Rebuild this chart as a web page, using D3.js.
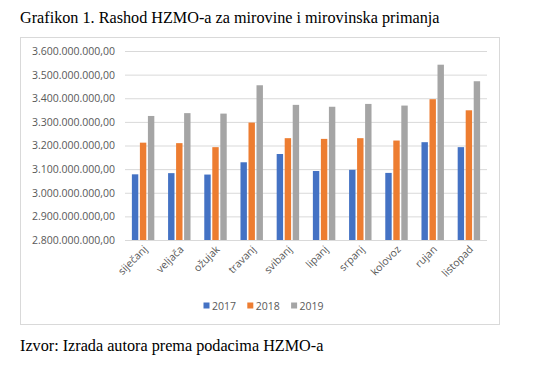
<!DOCTYPE html>
<html>
<head>
<meta charset="utf-8">
<script src="https://cdn.jsdelivr.net/npm/d3@7"></script>
<style>
  body { margin: 0; background: #fff; }
  svg { display: block; }
</style>
</head>
<body>
<svg id="chart" width="553" height="367"></svg>
<script>
// data
const months = ["siječanj", "veljača", "ožujak", "travanj", "svibanj", "lipanj", "srpanj", "kolovoz", "rujan", "listopad"];
const years = ["2017", "2018", "2019"];
const v2017 = [3078e6, 3083e6, 3077e6, 3129e6, 3164e6, 3092e6, 3097e6, 3084e6, 3214e6, 3193e6];
const v2018 = [3212e6, 3210e6, 3193e6, 3297e6, 3231e6, 3228e6, 3231e6, 3221e6, 3396e6, 3349e6];
const v2019 = [3325e6, 3337e6, 3335e6, 3455e6, 3372e6, 3364e6, 3376e6, 3369e6, 3542e6, 3472e6];
const yTicks = [2.8e9, 2.9e9, 3.0e9, 3.1e9, 3.2e9, 3.3e9, 3.4e9, 3.5e9, 3.6e9];

const series = [v2017, v2018, v2019];
const colors = ["#4472C4", "#ED7D31", "#A5A5A5"];

const svg = d3.select("#chart");

// title and source
svg.append("text")
    .attr("x", 20).attr("y", 23)
    .style("font-family", "'Liberation Serif', 'Times New Roman', serif")
    .style("font-size", "16.2px")
    .style("fill", "#000")
    .text("Grafikon 1. Rashod HZMO-a za mirovine i mirovinska primanja");

svg.append("text")
    .attr("x", 20).attr("y", 351)
    .style("font-family", "'Liberation Serif', 'Times New Roman', serif")
    .style("font-size", "16.2px")
    .style("fill", "#000")
    .text("Izvor: Izrada autora prema podacima HZMO-a");

// chart frame
svg.append("rect")
    .attr("x", 20.5).attr("y", 37.5)
    .attr("width", 479).attr("height", 287)
    .attr("fill", "#fff")
    .attr("stroke", "#d9d9d9");

let x0 = d3.scaleBand()
    .domain(months)
    .range([125, 487])
    .paddingInner(0.38)
    .paddingOuter(0.19);

let x1 = d3.scaleBand()
    .domain(years)
    .range([0, x0.bandwidth()])
    .paddingInner(0.2);

let yScale = d3.scaleLinear()
    .domain([2.8e9, 3.6e9])
    .range([240, 51]);

const fmt = v => d3.format(",.2f")(v).replace(/,/g, "#").replace(".", ",").replace(/#/g, ".");

// y axis with gridlines
let yAxis = d3.axisLeft(yScale)
    .tickValues(yTicks)
    .tickSize(-(487 - 125))
    .tickPadding(10)
    .tickFormat(fmt);

let gy = svg.append("g")
    .attr("transform", "translate(125,0)")
    .call(yAxis);
gy.select(".domain").remove();
gy.selectAll(".tick line").attr("stroke", "#d9d9d9");
gy.selectAll(".tick text")
    .style("font-family", "'Open Sans', sans-serif")
    .style("font-size", "10.5px")
    .attr("fill", "#595959");

// bars
let groups = svg.append("g").selectAll("g")
    .data(months)
    .join("g")
    .attr("transform", d => "translate(" + x0(d) + ",0)");

groups.selectAll("rect")
    .data((m, i) => series.map((s, k) => ({year: years[k], value: s[i], k: k})))
    .join("rect")
    .attr("x", d => x1(d.year))
    .attr("y", d => yScale(d.value))
    .attr("width", x1.bandwidth())
    .attr("height", d => yScale(2.8e9) - yScale(d.value))
    .attr("fill", d => colors[d.k]);

// baseline
svg.append("line")
    .attr("x1", 125).attr("x2", 487)
    .attr("y1", 240.5).attr("y2", 240.5)
    .attr("stroke", "#d9d9d9");

// x labels, rotated
svg.append("g").selectAll("text")
    .data(months)
    .join("text")
    .attr("transform", d => "translate(" + (x0(d) + x0.bandwidth() / 2 + 5) + ",250) rotate(-45)")
    .attr("text-anchor", "end")
    .style("font-family", "'Open Sans', sans-serif")
    .style("font-size", "10.5px")
    .attr("fill", "#595959")
    .text(d => d);

// legend
let legend = svg.append("g").selectAll("g")
    .data(years)
    .join("g")
    .attr("transform", (d, i) => "translate(" + (203.5 + i * 43.8) + ",302.5)");
legend.append("rect")
    .attr("width", 6).attr("height", 6)
    .attr("fill", (d, i) => colors[i]);
legend.append("text")
    .attr("x", 8.5).attr("y", 7)
    .style("font-family", "'Open Sans', sans-serif")
    .style("font-size", "10.5px")
    .attr("fill", "#595959")
    .text(d => d);
</script>
</body>
</html>
